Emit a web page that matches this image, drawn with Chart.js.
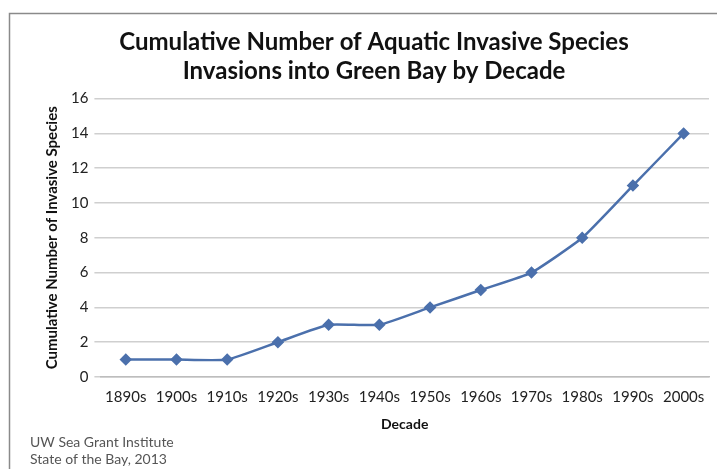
<!DOCTYPE html>
<html>
<head>
<meta charset="utf-8">
<script src="https://cdn.jsdelivr.net/npm/chart.js@4"></script>
<style>
  html, body { margin: 0; padding: 0; background: #fff; }
  #wrap { position: relative; width: 717px; height: 469px; }
</style>
</head>
<body>
<div id="wrap"><canvas id="chart"></canvas></div>
<script>
// dados
const decades = ['1890s', '1900s', '1910s', '1920s', '1930s', '1940s', '1950s', '1960s', '1970s', '1980s', '1990s', '2000s'];
const invasions = [1, 1, 1, 2, 3, 3, 4, 5, 6, 8, 11, 14];
const titleLines = ['Cumulative Number of Aquatic Invasive Species', 'Invasions into Green Bay by Decade'];
const sourceLines = ['UW Sea Grant Institute', 'State of the Bay, 2013'];

const FONT = 'Lato, "Open Sans", sans-serif';

// moldura e nota de fonte
const frame = {
    id: 'frame',
    afterDraw(chart) {
        const c = chart.ctx;
        c.save();
        c.strokeStyle = '#8a8a8a';
        c.lineWidth = 1.5;
        c.beginPath();
        c.moveTo(9.5, 469);
        c.lineTo(9.5, 13.5);
        c.lineTo(717, 13.5);
        c.stroke();
        c.fillStyle = '#555';
        c.font = '14px ' + FONT;
        c.textBaseline = 'middle';
        c.fillText(sourceLines[0], 30, 442);
        c.fillText(sourceLines[1], 30, 459);
        c.restore();
    }
};

const ctx = document.getElementById('chart').getContext('2d');
const chart = new Chart(ctx, {
    type: 'line',
    data: {
        labels: decades,
        datasets: [{
            label: 'Invasive species',
            data: invasions,
            borderColor: '#4b70ac',
            backgroundColor: '#4b70ac',
            borderWidth: 2.5,
            tension: 0.15,
            pointStyle: 'rectRot',
            pointRadius: 4.5,
            pointHoverRadius: 4.5,
            fill: false
        }]
    },
    options: {
        responsive: true,
        maintainAspectRatio: false,
        animation: false,
        layout: { padding: { left: 39, right: 8, top: 28, bottom: 36 } },
        plugins: {
            legend: { display: false },
            tooltip: { enabled: false },
            title: {
                display: true,
                text: titleLines,
                color: '#111',
                font: { family: FONT, size: 24, weight: 'bold', lineHeight: 1.2 },
                padding: { top: 0, bottom: 13 }
            }
        },
        scales: {
            x: {
                offset: true,
                grid: { display: false, drawOnChartArea: false },
                border: { color: '#bdbdbd', width: 1.5 },
                ticks: { color: '#222', font: { family: FONT, size: 15 }, maxRotation: 0, autoSkip: false, padding: 3 },
                title: {
                    display: true,
                    text: 'Decade',
                    color: '#111',
                    font: { family: FONT, size: 14, weight: 'bold' },
                    padding: { top: 8, bottom: 0 }
                },
                afterFit(scale) { scale.height = 56; }
            },
            y: {
                min: 0,
                max: 16,
                ticks: { stepSize: 2, color: '#222', font: { family: FONT, size: 15 }, padding: 6 },
                grid: { color: '#cfcfcf', lineWidth: 1.5, drawTicks: true, tickLength: 6 },
                border: { display: false },
                title: {
                    display: true,
                    text: 'Cumulative Number of Invasive Species',
                    color: '#111',
                    font: { family: FONT, size: 15, weight: 'bold' },
                    padding: { bottom: 4 }
                }
            }
        }
    },
    plugins: [frame]
});
</script>
</body>
</html>
